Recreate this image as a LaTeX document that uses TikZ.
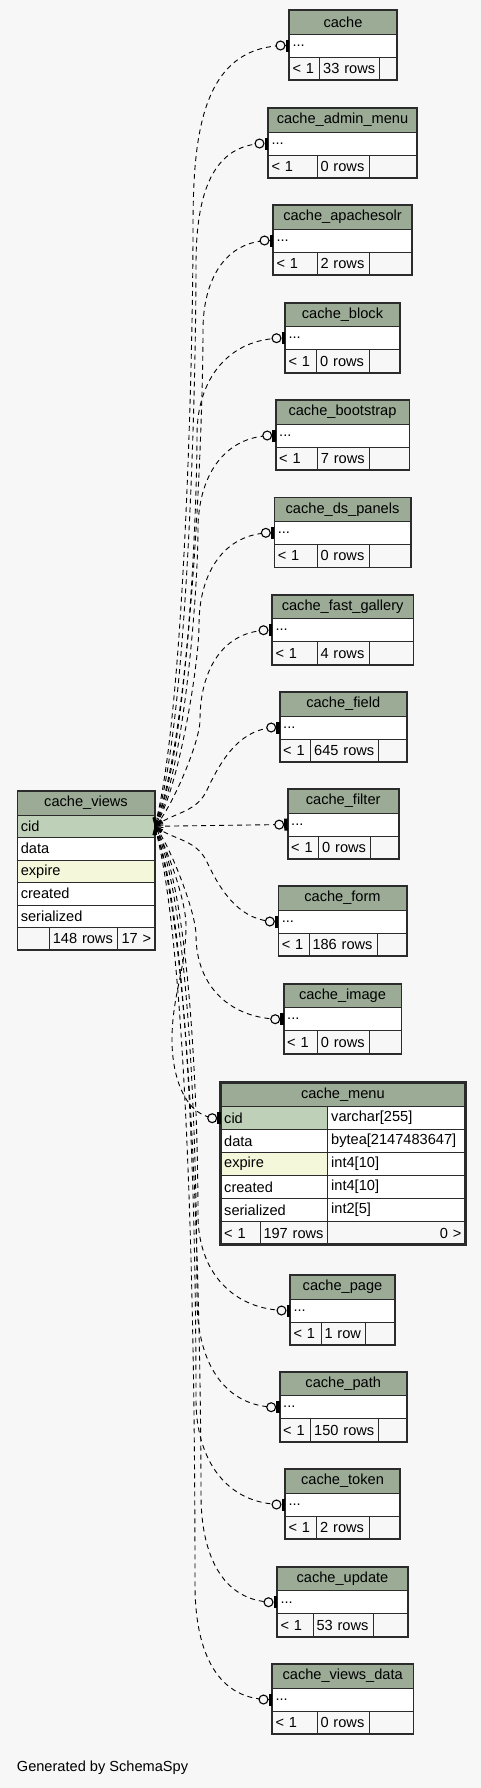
\documentclass[tikz,border=0pt]{standalone}
\usepackage{fontspec}
\setmainfont{Liberation Sans}
\usetikzlibrary{arrows.meta}
\definecolor{pagebg}{HTML}{F7F7F7}
\definecolor{headgreen}{HTML}{9BAB96}
\definecolor{pkgreen}{HTML}{BED1B8}
\definecolor{idxyellow}{HTML}{F4F7DA}
\definecolor{gridline}{HTML}{2B2B2B}

\newcommand{\tblfont}{\fontsize{14.6}{17}\selectfont}

% one table cell: style, name, x1, y1, x2, y2, text (pixel units, y down)
\newcommand{\tcell}[7]{%
  \pgfmathsetmacro\cellw{#5-#3}%
  \pgfmathsetmacro\cellh{#6-#4}%
  \pgfmathsetmacro\celltw{#5-#3-7}%
  \node[#1, minimum width=\cellw pt, minimum height=\cellh pt,
    text width=\celltw pt, anchor=north west] (#2) at (#3,-#4) {#7};%
}

% collapsed table: name, label, x1, x2, top, divider 1, divider 2, rows
\newcommand{\smalltbl}[8]{%
  \pgfmathsetmacro\tba{#5+24}%
  \pgfmathsetmacro\tbb{#5+47}%
  \pgfmathsetmacro\tbc{#5+70}%
  \tcell{tblhead}{#1-h}{#3}{#5}{#4}{\tba}{#2}
  \tcell{tblrow}{#1}{#3}{\tba}{#4}{\tbb}{...}
  \tcell{tblfoot}{#1-f1}{#3}{\tbb}{#6}{\tbc}{< 1}
  \tcell{tblfoot}{#1-f2}{#6}{\tbb}{#7}{\tbc}{#8}
  \tcell{tblfoot}{#1-f3}{#7}{\tbb}{#4}{\tbc}{}
  \draw[tblframe] (#1-h.north west) rectangle (#1-f3.south east);
}

% connectors from cache_views.cid: target, bundle x, bend y, leaving angle
\newcommand{\upfk}[4]{%
  \draw[fk] (cv-cid.east) to[out=#4, in=-90, looseness=0.5] (#2,-#3)
    to[out=90, in=180, looseness=1.1] (#1.west);
}
\newcommand{\downfk}[4]{%
  \draw[fk] (cv-cid.east) to[out=#4, in=90, looseness=0.5] (#2,-#3)
    to[out=-90, in=180, looseness=1.1] (#1.west);
}

\begin{document}
\begin{tikzpicture}[
    x=1pt, y=1pt,
    every node/.style={font=\tblfont},
    tblcell/.style={draw=gridline, line width=1pt, inner sep=0pt,
      inner xsep=3.5pt, outer sep=0pt},
    tblhead/.style={tblcell, fill=headgreen, align=center},
    tblrow/.style={tblcell, fill=white, align=left},
    tblpk/.style={tblcell, fill=pkgreen, align=left},
    tblidx/.style={tblcell, fill=idxyellow, align=left},
    tblfoot/.style={tblcell, fill=pagebg, align=left},
    tblfootr/.style={tblcell, fill=pagebg, align=right},
    tblframe/.style={draw=gridline, line width=1.6pt},
    fk/.style={draw=black, line width=0.9pt, dash pattern=on 5pt off 4pt,
      {Straight Barb[length=7pt,width=8pt]}-{Circle[fill=pagebg,length=10pt,width=10pt,line width=1.1pt] Bar[width=12pt,line width=3.5pt]}},
  ]

  % --- Page ---
  \fill[pagebg] (0,0) rectangle (481,-1788);

  % --- cache_views ---
  \tcell{tblhead}{cv-h}{17.3}{790.7}{154.7}{815}{cache\_views}
  \tcell{tblpk}{cv-cid}{17.3}{815}{154.7}{837.5}{cid}
  \tcell{tblrow}{cv-data}{17.3}{837.5}{154.7}{860}{data}
  \tcell{tblidx}{cv-expire}{17.3}{860}{154.7}{882.5}{expire}
  \tcell{tblrow}{cv-created}{17.3}{882.5}{154.7}{905}{created}
  \tcell{tblrow}{cv-serial}{17.3}{905}{154.7}{927.5}{serialized}
  \tcell{tblfoot}{cv-f1}{17.3}{927.5}{49.3}{950}{}
  \tcell{tblfoot}{cv-f2}{49.3}{927.5}{117.3}{950}{148 rows}
  \tcell{tblfootr}{cv-f3}{117.3}{927.5}{154.7}{950}{17 >}
  \draw[tblframe] (cv-h.north west) rectangle (cv-f3.south east);

  % --- cache_menu (expanded) ---
  \tcell{tblhead}{menu-h}{220.7}{1082.7}{465}{1106.7}{cache\_menu}
  \tcell{tblpk}{menu-cid}{220.7}{1106.7}{327.7}{1129.7}{cid}
  \tcell{tblrow}{menu-cid-t}{327.7}{1106.7}{465}{1129.7}{varchar[255]}
  \tcell{tblrow}{menu-data}{220.7}{1129.7}{327.7}{1152.7}{data}
  \tcell{tblrow}{menu-data-t}{327.7}{1129.7}{465}{1152.7}{bytea[2147483647]}
  \tcell{tblidx}{menu-expire}{220.7}{1152.7}{327.7}{1175.7}{expire}
  \tcell{tblrow}{menu-expire-t}{327.7}{1152.7}{465}{1175.7}{int4[10]}
  \tcell{tblrow}{menu-created}{220.7}{1175.7}{327.7}{1198.7}{created}
  \tcell{tblrow}{menu-created-t}{327.7}{1175.7}{465}{1198.7}{int4[10]}
  \tcell{tblrow}{menu-serial}{220.7}{1198.7}{327.7}{1221.7}{serialized}
  \tcell{tblrow}{menu-serial-t}{327.7}{1198.7}{465}{1221.7}{int2[5]}
  \tcell{tblfoot}{menu-f1}{220.7}{1221.7}{260}{1244.7}{< 1}
  \tcell{tblfoot}{menu-f2}{260}{1221.7}{327.7}{1244.7}{197 rows}
  \tcell{tblfootr}{menu-f3}{327.7}{1221.7}{465}{1244.7}{0 >}
  \draw[tblframe, line width=3pt] (menu-h.north west) rectangle (menu-f3.south east);

  % --- Related tables ---
  \smalltbl{cache}{cache}{289}{397}{10}{319.7}{379.7}{33 rows}
  \smalltbl{admin}{cache\_admin\_menu}{268}{417}{108}{317}{369}{0 rows}
  \smalltbl{apache}{cache\_apachesolr}{273}{412}{205}{317}{369}{2 rows}
  \smalltbl{block}{cache\_block}{285}{400}{302.7}{316.7}{369}{0 rows}
  \smalltbl{boot}{cache\_bootstrap}{275.7}{409.3}{400}{317.3}{369}{7 rows}
  \smalltbl{dspanels}{cache\_ds\_panels}{274.3}{410.7}{497.3}{317}{369}{0 rows}
  \smalltbl{fastgal}{cache\_fast\_gallery}{272}{413.3}{594.7}{317}{369.3}{4 rows}
  \smalltbl{field}{cache\_field}{279.7}{406.7}{692}{310.7}{378.7}{645 rows}
  \smalltbl{filter}{cache\_filter}{287.7}{398.7}{789}{318.7}{370.7}{0 rows}
  \smalltbl{form}{cache\_form}{278.3}{406.7}{886}{309}{377.3}{186 rows}
  \smalltbl{image}{cache\_image}{283.7}{401.3}{983.7}{317.3}{369.3}{0 rows}
  \smalltbl{page}{cache\_page}{290}{395}{1275}{321}{365}{1 row}
  \smalltbl{path}{cache\_path}{279.7}{406.7}{1371.7}{310.7}{378.7}{150 rows}
  \smalltbl{token}{cache\_token}{285}{400}{1469}{316.7}{369}{2 rows}
  \smalltbl{update}{cache\_update}{277}{408}{1566.7}{313}{373.3}{53 rows}
  \smalltbl{viewsdata}{cache\_views\_data}{272}{413.3}{1664}{317}{369}{0 rows}

  % --- Connectors ---
  \upfk{cache}{193}{230}{75}
  \upfk{admin}{196}{265}{72}
  \upfk{apache}{203}{330}{68}
  \upfk{block}{197}{435}{65}
  \upfk{boot}{198}{530}{60}
  \upfk{dspanels}{199}{625}{55}
  \upfk{fastgal}{200}{720}{45}
  \draw[fk] (cv-cid.east) to[out=35, in=-115] (207,-790)
    to[out=65, in=180] (field.west);
  \draw[fk] (cv-cid.east) -- (filter.west);
  \draw[fk] (cv-cid.east) to[out=-35, in=115] (207,-862)
    to[out=-65, in=180] (form.west);
  \downfk{image}{196}{935}{-50}
  \draw[fk] (cv-cid.east) to[out=-60, in=90, looseness=0.6] (186,-925)
    to[out=-90, in=90] (172,-1040) to[out=-90, in=180] (menu-cid.west);
  \downfk{page}{198}{1215}{-60}
  \downfk{path}{197}{1300}{-65}
  \downfk{token}{196}{1400}{-70}
  \downfk{update}{201}{1495}{-72}
  \downfk{viewsdata}{195}{1585}{-75}

  % --- Footer ---
  \node[anchor=west, inner sep=0pt] (credit) at (16.7,-1768) {Generated by SchemaSpy};
\end{tikzpicture}
\end{document}
